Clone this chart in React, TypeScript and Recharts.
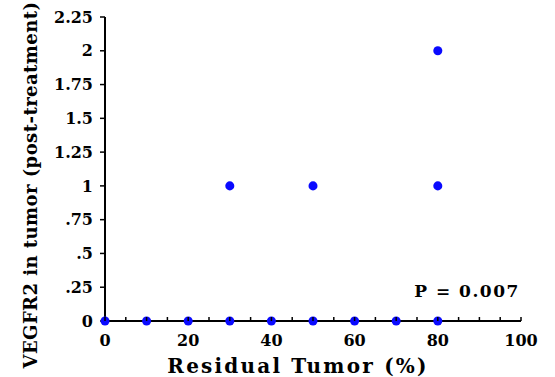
import { ScatterChart, Scatter, XAxis, YAxis, ZAxis, Customized } from "recharts";

const residualTumor = [0, 10, 20, 30, 40, 50, 60, 70, 80, 30, 50, 80, 80];
const vegfr2 = [0, 0, 0, 0, 0, 0, 0, 0, 0, 1, 1, 1, 2];

const xTicks = [0, 5, 10, 15, 20, 25, 30, 35, 40, 45, 50, 55, 60, 65, 70, 75, 80, 85, 90, 95, 100];
const xTickLabels = ["0", "20", "40", "60", "80", "100"];
const yTicks = [0, 0.25, 0.5, 0.75, 1, 1.25, 1.5, 1.75, 2, 2.25];
const yTickLabels = ["0", ".25", ".5", ".75", "1", "1.25", "1.5", "1.75", "2", "2.25"];

const pValueText = "P = 0.007";

const data = residualTumor.map((x, i) => ({ x, y: vegfr2[i] }));

const FONT = "'DejaVu Serif', serif";

function XTick({ x, y, payload }: any) {
  const v = payload.value;
  const label = xTickLabels.find((l) => Number(l) === v);
  return (
    <g>
      <line x1={x} y1={y} x2={x} y2={y - 4} stroke="#000" strokeWidth={1.5} />
      {label !== undefined && (
        <text x={x} y={y + 25} textAnchor="middle" fontFamily={FONT} fontWeight="bold" fontSize={16} fill="#000">
          {label}
        </text>
      )}
    </g>
  );
}

export default function App() {
  return (
    <div style={{ position: "absolute", left: 0, top: 0, background: "#fff" }}>
      <ScatterChart width={555} height={377} margin={{ top: 17, right: 34, bottom: 0, left: 0 }}>
        <XAxis
          type="number"
          dataKey="x"
          domain={[0, 100]}
          ticks={xTicks}
          interval={0}
          height={56}
          stroke="#000"
          strokeWidth={2}
          tickLine={false}
          tickSize={0}
          tickMargin={0}
          tick={<XTick />}
        />
        <YAxis
          type="number"
          dataKey="y"
          domain={[0, 2.25]}
          ticks={yTicks}
          interval={0}
          width={105}
          stroke="#000"
          strokeWidth={2}
          tickSize={5}
          tickMargin={7}
          tickLine={{ stroke: "#000", strokeWidth: 1.5 }}
          tickFormatter={(v: number) => yTickLabels[yTicks.indexOf(v)]}
          tick={{ fill: "#000", fontFamily: FONT, fontWeight: "bold", fontSize: 16 }}
        />
        <ZAxis range={[70, 70]} />
        <Scatter data={data} fill="#0a0aff" isAnimationActive={false} />
        <Customized
          component={() => (
            <g>
              <text
                x={298}
                y={373}
                textAnchor="middle"
                fontFamily={FONT}
                fontWeight="bold"
                fontSize={20}
                letterSpacing={2.2}
                fill="#000"
              >
                Residual Tumor (%)
              </text>
              <text
                x={30}
                y={185}
                transform="rotate(-90, 30, 185)"
                textAnchor="middle"
                dominantBaseline="central"
                fontFamily={FONT}
                fontWeight="bold"
                fontSize={18}
                letterSpacing={0.45}
                fill="#000"
              >
                VEGFR2 in tumor (post-treatment)
              </text>
              <text
                x={467}
                y={297}
                textAnchor="middle"
                fontFamily={FONT}
                fontWeight="bold"
                fontSize={17}
                letterSpacing={1.5}
                fill="#000"
              >
                {pValueText}
              </text>
            </g>
          )}
        />
      </ScatterChart>
    </div>
  );
}
